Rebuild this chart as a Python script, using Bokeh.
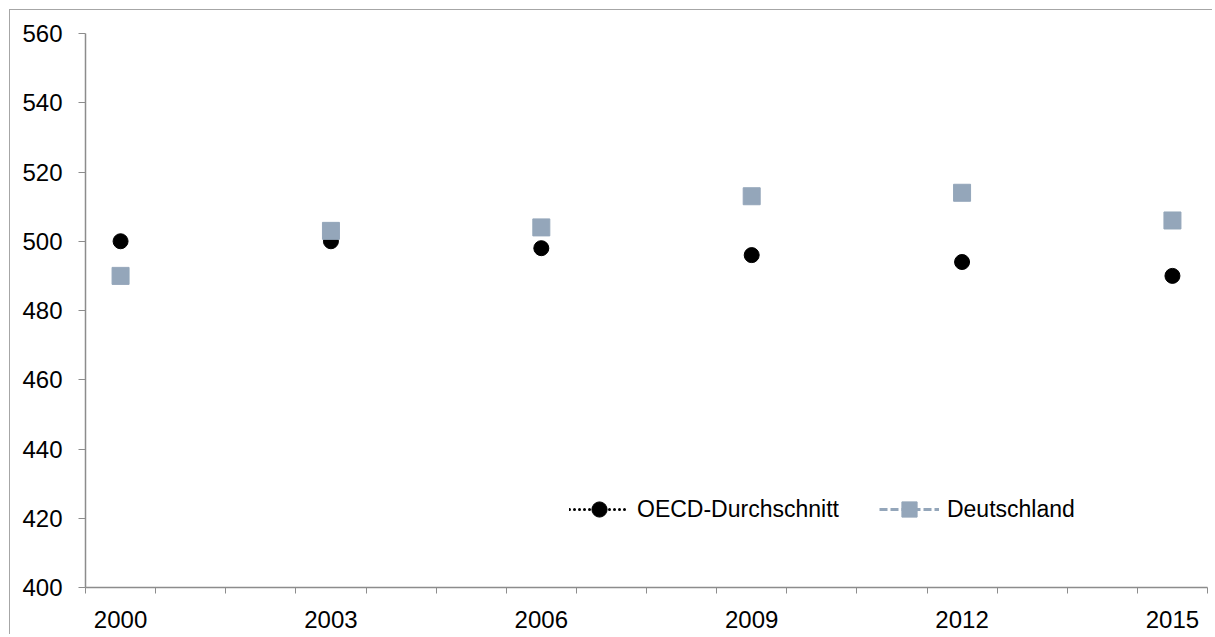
from bokeh.plotting import figure
from bokeh.models import Range1d, FixedTicker, Legend, LegendItem
from bokeh.embed import file_html
from bokeh.resources import INLINE

years = [2000, 2003, 2006, 2009, 2012, 2015]
oecd = [500, 500, 498, 496, 494, 490]
deutschland = [490, 503, 504, 513, 514, 506]
labels = ["OECD-Durchschnitt", "Deutschland"]
y_ticks = [400, 420, 440, 460, 480, 500, 520, 540, 560]

first, last = 2000, 2015
minor = [first - 0.5 + i for i in range(last - first + 2)]
nan_line = [float("nan")] * len(years)

FONT = "Liberation Sans"
AXIS_COLOR = "#8C8C8C"
GREY_BLUE = "#94A6BA"

p = figure(width=1203, height=625, output_backend="svg", toolbar_location=None,
           x_range=Range1d(first - 0.5, last + 0.5), y_range=Range1d(400, 560),
           min_border_left=75, min_border_right=6, min_border_top=23, min_border_bottom=48)
p.margin = (9, 0, 0, 9)
p.styles = {"border-left": "1px solid #A6A6A6", "border-top": "1px solid #A6A6A6"}
p.outline_line_color = None
p.grid.visible = False

xa = p.xaxis[0]
xa.ticker = FixedTicker(ticks=years, minor_ticks=minor)
xa.major_tick_line_color = None
xa.major_tick_out = 6
xa.major_tick_in = 0
xa.minor_tick_out = 6
xa.minor_tick_in = 0
xa.minor_tick_line_color = AXIS_COLOR
xa.minor_tick_line_width = 1
xa.axis_line_color = AXIS_COLOR
xa.axis_line_width = 1.5
xa.major_label_text_font = FONT
xa.major_label_text_font_size = "24px"
xa.major_label_text_color = "#000000"
xa.major_label_standoff = 17

ya = p.yaxis[0]
ya.ticker = FixedTicker(ticks=y_ticks, minor_ticks=[])
ya.major_tick_out = 7
ya.major_tick_in = 0
ya.major_tick_line_color = AXIS_COLOR
ya.major_tick_line_width = 1
ya.axis_line_color = AXIS_COLOR
ya.axis_line_width = 1.5
ya.major_label_text_font = FONT
ya.major_label_text_font_size = "24px"
ya.major_label_text_color = "#000000"
ya.major_label_standoff = 16

# legend-only lines (no connecting lines are drawn in the plot)
l1 = p.line(years, nan_line, line_color="black", line_width=3, line_dash="0 5", line_cap="round")
l2 = p.line(years, nan_line, line_color=GREY_BLUE, line_width=3, line_dash="8 3")

s1 = p.scatter(years, oecd, marker="circle", size=15, fill_color="black", line_color="black")
s2 = p.scatter(years, deutschland, marker="square", size=17, fill_color=GREY_BLUE, line_color=GREY_BLUE)

legend = Legend(items=[LegendItem(label=labels[0], renderers=[l1, s1]),
                       LegendItem(label=labels[1], renderers=[l2, s2])],
                orientation="horizontal", location=(484, 59),
                glyph_width=60, glyph_height=38, label_standoff=8, spacing=40,
                padding=0, margin=0, border_line_color=None, background_fill_alpha=0,
                label_text_font=FONT, label_text_font_size="23px", label_text_color="#000000")
p.add_layout(legend, "center")

open("out.html", "w").write(file_html(p, INLINE))
